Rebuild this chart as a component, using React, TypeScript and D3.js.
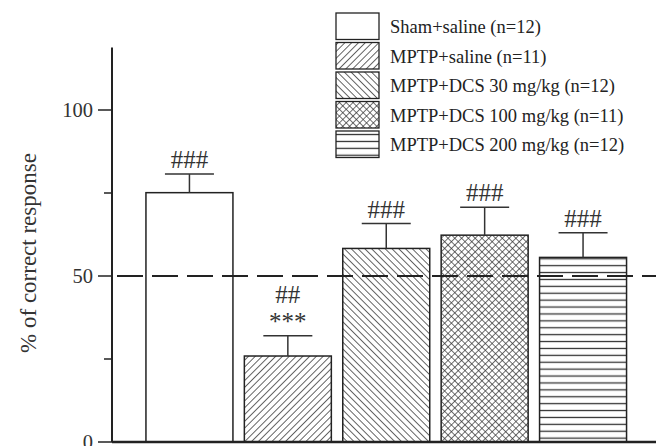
import React from "react";
import * as d3 from "d3";

const categories = ["Sham+saline", "MPTP+saline", "MPTP+DCS 30", "MPTP+DCS 100", "MPTP+DCS 200"];
const means = [75.1, 25.9, 58.3, 62.3, 55.6];
const sems = [5.6, 6.1, 7.5, 8.4, 7.4];
const hashLabels = ["###", "##", "###", "###", "###"];
const starLabels = ["", "***", "", "", ""];
const legendLabels = [
  "Sham+saline (n=12)",
  "MPTP+saline (n=11)",
  "MPTP+DCS 30 mg/kg (n=12)",
  "MPTP+DCS 100 mg/kg (n=11)",
  "MPTP+DCS 200 mg/kg (n=12)",
];
const patterns = ["none", "pDiagR", "pDiagL", "pCross", "pHoriz"];
const majorTicks = [0, 50, 100];
const minorTicks = [25, 75];
const refLine = 50;

const W = 656;
const H = 446;
const FONT = '"Liberation Serif", "Times New Roman", Times, serif';
const INK = "#222";
const tf = { fontFamily: FONT };

export default function App() {
  const y = d3.scaleLinear().domain([0, 120]).range([442, 43.6]);
  const x = d3
    .scaleBand<string>()
    .domain(categories)
    .range([112, 660.5])
    .paddingInner(0.116)
    .paddingOuter(0.345);
  const bw = x.bandwidth();
  const axisX = 112;
  const capW = 49;

  return (
    <svg
      width={W}
      height={H}
      style={{ position: "absolute", left: 0, top: 0, background: "#fff", fontFamily: FONT }}
    >
      <defs>
        <pattern id="pDiagR" width="4.8" height="4.8" patternUnits="userSpaceOnUse" patternTransform="rotate(45)">
          <rect width="4.8" height="4.8" fill="#fff" />
          <line x1="0" y1="0" x2="0" y2="4.8" stroke="#333" strokeWidth="1.5" />
        </pattern>
        <pattern id="pDiagL" width="4.8" height="4.8" patternUnits="userSpaceOnUse" patternTransform="rotate(-45)">
          <rect width="4.8" height="4.8" fill="#fff" />
          <line x1="0" y1="0" x2="0" y2="4.8" stroke="#333" strokeWidth="1.5" />
        </pattern>
        <pattern id="pCross" width="4.8" height="4.8" patternUnits="userSpaceOnUse" patternTransform="rotate(45)">
          <rect width="4.8" height="4.8" fill="#fff" />
          <line x1="0" y1="0" x2="0" y2="4.8" stroke="#333" strokeWidth="1.4" />
          <line x1="0" y1="0" x2="4.8" y2="0" stroke="#333" strokeWidth="1.4" />
        </pattern>
        <pattern id="pHoriz" width="10" height="6.9" patternUnits="userSpaceOnUse">
          <rect width="10" height="6.9" fill="#fff" />
          <line x1="0" y1="3.45" x2="10" y2="3.45" stroke="#333" strokeWidth="1.3" />
        </pattern>
      </defs>

      {/* bars */}
      {categories.map((c, i) => {
        const x0 = x(c)!;
        const top = y(means[i]);
        const errTop = y(means[i] + sems[i]);
        const cx = x0 + bw / 2;
        return (
          <g key={c}>
            <rect
              x={x0}
              y={top}
              width={bw}
              height={y(0) - top}
              fill={patterns[i] === "none" ? "#fff" : `url(#${patterns[i]})`}
              stroke={INK}
              strokeWidth={1.5}
            />
            <line x1={cx} x2={cx} y1={top} y2={errTop} stroke="#333" strokeWidth={1.5} />
            <line x1={cx - capW / 2} x2={cx + capW / 2} y1={errTop} y2={errTop} stroke="#333" strokeWidth={1.5} />
            {starLabels[i] ? (
              <>
                <text x={cx} y={errTop - 6} textAnchor="middle" fontSize={25} fill="#333" style={tf}>
                  {starLabels[i]}
                </text>
                <text x={cx} y={errTop - 33} textAnchor="middle" fontSize={25} fill="#333" style={tf}>
                  {hashLabels[i]}
                </text>
              </>
            ) : (
              <text x={cx} y={errTop - 6} textAnchor="middle" fontSize={25} fill="#333" style={tf}>
                {hashLabels[i]}
              </text>
            )}
          </g>
        );
      })}

      {/* reference dashed line */}
      <line
        x1={117}
        x2={W}
        y1={y(refLine)}
        y2={y(refLine)}
        stroke={INK}
        strokeWidth={1.8}
        strokeDasharray="26 9"
      />

      {/* y axis */}
      <line x1={axisX} x2={axisX} y1={y(0)} y2={y(118.8)} stroke={INK} strokeWidth={2} />
      {majorTicks.map((t) => (
        <g key={t}>
          <line x1={axisX - 14} x2={axisX} y1={y(t)} y2={y(t)} stroke={INK} strokeWidth={1.5} />
          <text x={93} y={y(t)} dy="0.35em" textAnchor="end" fontSize={20.5} fill="#333" style={tf}>
            {t}
          </text>
        </g>
      ))}
      {minorTicks.map((t) => (
        <line key={t} x1={axisX - 8} x2={axisX} y1={y(t)} y2={y(t)} stroke={INK} strokeWidth={1.5} />
      ))}
      <text
        transform={`translate(36, 253) rotate(-90)`}
        textAnchor="middle"
        fontSize={23}
        fill="#333"
        style={tf}
      >
        % of correct response
      </text>

      {/* x axis */}
      <line x1={axisX} x2={W} y1={y(0)} y2={y(0)} stroke={INK} strokeWidth={2.5} />

      {/* legend */}
      {legendLabels.map((l, i) => {
        const top = 13 + i * 29.5;
        return (
          <g key={l}>
            <rect
              x={336}
              y={top}
              width={43}
              height={26.5}
              fill={patterns[i] === "none" ? "#fff" : `url(#${patterns[i]})`}
              stroke={INK}
              strokeWidth={1.3}
            />
            <text x={390} y={top + 20} fontSize={18.5} fill="#222" style={tf}>
              {l}
            </text>
          </g>
        );
      })}
    </svg>
  );
}
